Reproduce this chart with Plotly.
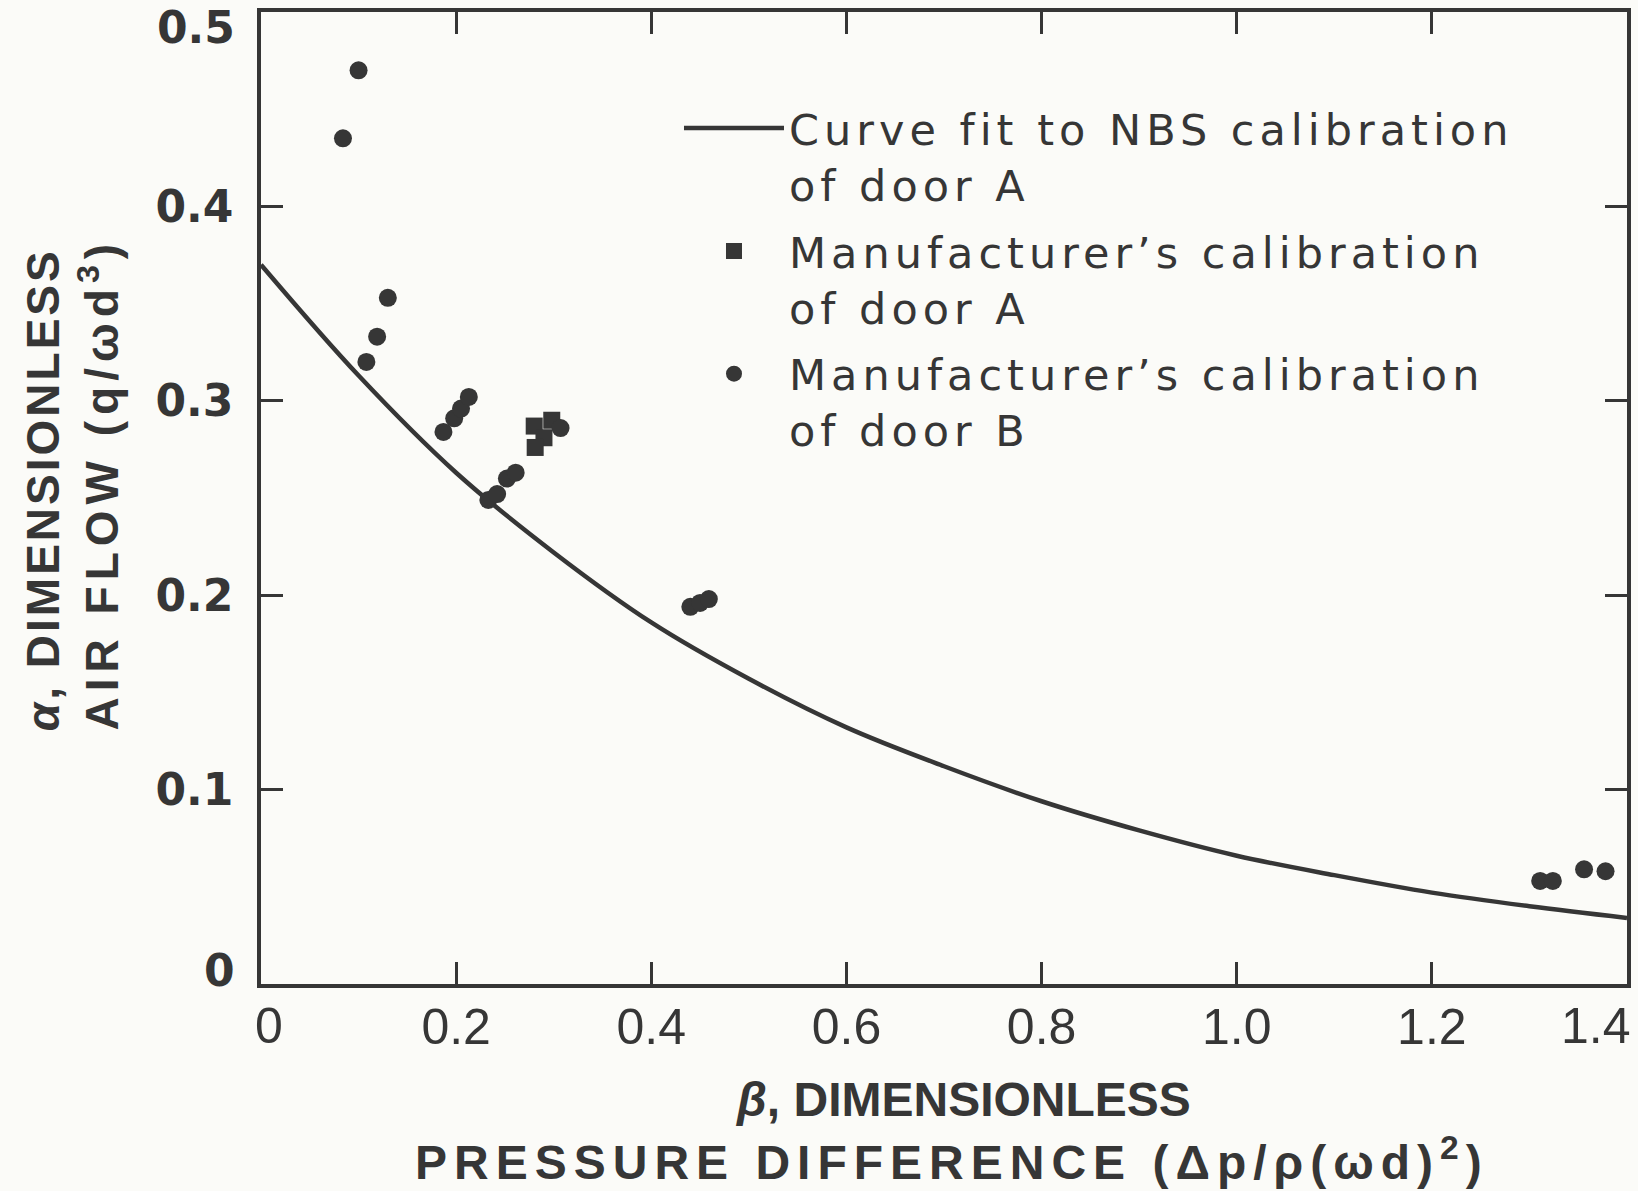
import plotly.graph_objects as go

# curve fit to NBS calibration of door A
fit_beta = [0.0, 0.1, 0.2, 0.3, 0.4, 0.5, 0.6, 0.7, 0.8, 0.9, 1.0, 1.1, 1.2, 1.3, 1.4]
fit_alpha = [0.370, 0.313, 0.263, 0.222, 0.186, 0.157, 0.132, 0.112, 0.094, 0.079,
             0.066, 0.056, 0.047, 0.040, 0.034]

# manufacturer's calibration of door A (squares)
door_a_beta = [0.280, 0.298, 0.290, 0.281]
door_a_alpha = [0.287, 0.290, 0.281, 0.276]

# manufacturer's calibration of door B (circles)
door_b_beta = [0.084, 0.100, 0.108, 0.119, 0.130,
               0.187, 0.198, 0.205, 0.213,
               0.233, 0.242, 0.252, 0.261, 0.307,
               0.440, 0.450, 0.459,
               1.311, 1.324, 1.356, 1.378]
door_b_alpha = [0.435, 0.470, 0.320, 0.333, 0.353,
                0.284, 0.291, 0.296, 0.302,
                0.249, 0.252, 0.260, 0.263, 0.286,
                0.194, 0.196, 0.198,
                0.053, 0.053, 0.059, 0.058]

x_ticks = [0.2, 0.4, 0.6, 0.8, 1.0, 1.2]
x_ticktext = ["0.2", "0.4", "0.6", "0.8", "1.0", "1.2"]
y_ticks = [0.1, 0.2, 0.3, 0.4]
y_ticktext = ["0.1", "0.2", "0.3", "0.4"]
# labels at the ends of the axes, nudged inward so they stay on the page
x_edge_labels = {0: ("0", 8), 1.4: ("1.4", -31)}
y_edge_labels = {0: ("0", 14), 0.5: ("0.5", -15)}

legend_names = [
    "Curve fit to NBS calibration<br>of door A",
    "Manufacturer\u2019s calibration<br>of door A",
    "Manufacturer\u2019s calibration<br>of door B",
]

INK = "#363636"
PAPER = "#fbfbf8"
FONT = "Liberation Sans, Arial, sans-serif"
DEJAVU = "DejaVu Sans, sans-serif"


def spaced(text, px):
    return '<span style="letter-spacing:%dpx">%s</span>' % (px, text)


fig = go.Figure()

fig.add_trace(go.Scatter(
    x=fit_beta, y=fit_alpha, mode="lines", line_shape="spline",
    line=dict(color=INK, width=4.5),
    name=spaced(legend_names[0], 5), legendgroup="fit",
))
fig.add_trace(go.Scatter(
    x=door_a_beta, y=door_a_alpha, mode="markers",
    marker=dict(symbol="square", size=17, color=INK),
    name=spaced(legend_names[1], 5), legendgroup="a",
))
fig.add_trace(go.Scatter(
    x=door_b_beta, y=door_b_alpha, mode="markers",
    marker=dict(symbol="circle", size=18, color=INK),
    name=spaced(legend_names[2], 5), legendgroup="b",
))

axis_common = dict(
    showgrid=False, zeroline=False, showline=True, linewidth=3.5, linecolor=INK,
    mirror="allticks", ticks="inside", ticklen=22, tickwidth=3, tickcolor=INK,
    automargin=False,
)
x_tickfont = dict(family=FONT, size=50, color=INK)
y_tickfont = dict(family=DEJAVU, size=44, color=INK, weight="bold")

fig.update_xaxes(
    range=[0, 1.4], tickvals=x_ticks, ticktext=x_ticktext,
    tickfont=x_tickfont, ticklabelstandoff=-4, **axis_common,
)
fig.update_yaxes(
    range=[0, 0.5], tickvals=y_ticks, ticktext=y_ticktext,
    tickfont=y_tickfont, ticklabelstandoff=15, **axis_common,
)

for val, (label, shift) in x_edge_labels.items():
    fig.add_annotation(
        xref="x", yref="paper", x=val, y=0, xshift=shift, yshift=-42, text=label,
        showarrow=False, xanchor="center", yanchor="middle", font=x_tickfont,
    )
for val, (label, shift) in y_edge_labels.items():
    fig.add_annotation(
        xref="paper", yref="y", x=-0.0176, y=val, yshift=shift, text=label,
        showarrow=False, xanchor="right", yanchor="middle", font=y_tickfont,
    )

# y axis title, two lines
fig.add_annotation(
    xref="paper", yref="paper", x=-0.1596, y=0.509, textangle=-90,
    text=spaced("<i>\u03b1</i>, DIMENSIONLESS", 3),
    showarrow=False, font=dict(family=FONT, size=46, color=INK, weight="bold"),
    xanchor="center", yanchor="middle",
)
fig.add_annotation(
    xref="paper", yref="paper", x=-0.1186, y=0.515, textangle=-90,
    text=spaced("AIR FLOW (q/\u03c9d<sup>3</sup>)", 6),
    showarrow=False, font=dict(family=FONT, size=46, color=INK, weight="bold"),
    xanchor="center", yanchor="middle",
)

# x axis title, two lines
fig.add_annotation(
    xref="paper", yref="paper", x=0.514, y=-0.119,
    text="<i>\u03b2</i>, DIMENSIONLESS",
    showarrow=False, font=dict(family=FONT, size=48, color=INK, weight="bold"),
    xanchor="center", yanchor="middle",
)
fig.add_annotation(
    xref="paper", yref="paper", x=0.506, y=-0.180,
    text=spaced("PRESSURE DIFFERENCE (\u0394p/\u03c1(\u03c9d)<sup>2</sup>)", 7),
    showarrow=False, font=dict(family=FONT, size=48, color=INK, weight="bold"),
    xanchor="center", yanchor="middle",
)

fig.update_layout(
    width=1638, height=1191,
    margin=dict(l=261, r=11, t=12, b=207, autoexpand=False),
    paper_bgcolor=PAPER, plot_bgcolor=PAPER,
    showlegend=True,
    legend=dict(
        x=0.306, y=0.916, xanchor="left", yanchor="top",
        bgcolor="rgba(0,0,0,0)", itemwidth=100, valign="top",
        font=dict(family=DEJAVU, size=43, color=INK),
        traceorder="grouped", tracegroupgap=8,
    ),
)

# drop the default body margin so the figure sits at the page corner
fig.write_html(
    "out.html",
    config={"displayModeBar": False},
    post_script="document.body.style.margin='0';",
)
